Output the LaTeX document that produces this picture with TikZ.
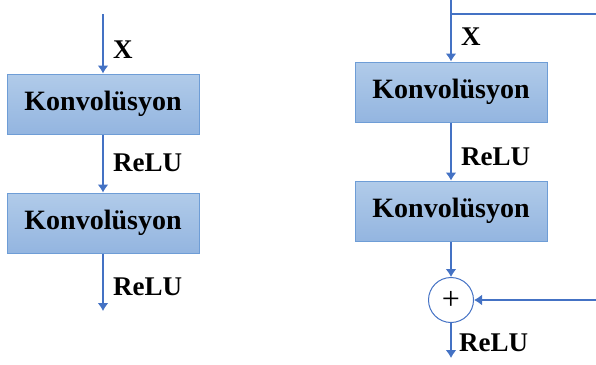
\documentclass[tikz,border=0pt]{standalone}
\usepackage{fontspec}
\setmainfont{Liberation Serif}
\usetikzlibrary{arrows.meta}
\definecolor{linkblue}{HTML}{4472C4}
\definecolor{boxtop}{HTML}{B1CBE9}
\definecolor{boxbot}{HTML}{93B5E0}
\definecolor{boxedge}{HTML}{6E9DD6}
\tikzset{
  conv/.style={draw=boxedge, line width=1pt, top color=boxtop, bottom color=boxbot,
    minimum width=192pt, minimum height=60pt, inner sep=0pt,
    font=\fontsize{28}{32}\selectfont\bfseries},
  flow/.style={draw=linkblue, line width=1.5pt, -{Latex[length=8pt,width=11pt]}},
  wire/.style={draw=linkblue, line width=1.5pt},
  lbl/.style={font=\fontsize{27}{30}\selectfont\bfseries, anchor=west, inner sep=0pt},
  sumnode/.style={circle, draw=linkblue, line width=1pt, minimum size=45pt, inner sep=0pt,
    font=\fontsize{32}{32}\selectfont}
}
\begin{document}
\begin{tikzpicture}[x=1pt, y=-1pt]
\useasboundingbox (0,0) rectangle (596,364);

% plain block
\coordinate (inA) at (103,14);
\node[conv] (c1) at (103,104) {Konvolüsyon};
\node[conv] (c2) at (103,223) {Konvolüsyon};
\coordinate (outA) at (103,311);
\draw[flow] (inA) -- (c1.north);
\draw[flow] (c1.south) -- (c2.north);
\draw[flow] (c2.south) -- (outA);
\node[lbl] (xa) at (113,50) {X};
\node[lbl] (ra1) at (113,163) {ReLU};
\node[lbl] (ra2) at (113,287) {ReLU};

% residual block
\coordinate (inB) at (451,0);
\coordinate (split) at (451,14);
\coordinate (skipTop) at (596,14);
\coordinate (skipBot) at (596,300);
\node[conv] (c3) at (451,92) {Konvolüsyon};
\node[conv] (c4) at (451,211) {Konvolüsyon};
\node[sumnode] (sum) at (451,300) {+};
\coordinate (outB) at (451,358);
\draw[flow] (inB) -- (c3.north);
\draw[wire] (split) -- (skipTop);
\draw[flow] (c3.south) -- (c4.north);
\draw[flow] (c4.south) -- (sum.north);
\draw[flow] (skipBot) -- (sum.east);
\draw[flow] (sum.south) -- (outB);
\node[lbl] (xb) at (461,37) {X};
\node[lbl] (rb1) at (461,157) {ReLU};
\node[lbl] (rb2) at (459,343) {ReLU};
\end{tikzpicture}
\end{document}
